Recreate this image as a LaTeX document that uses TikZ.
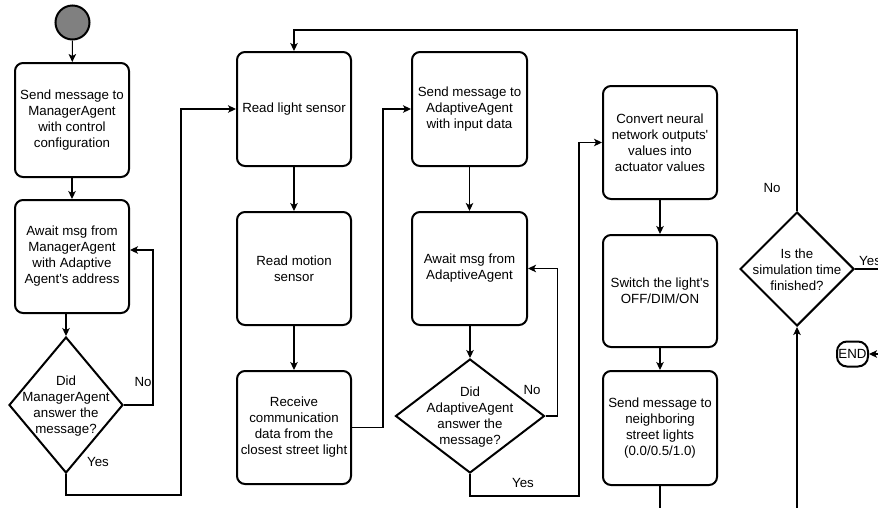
\documentclass[tikz,border=0pt]{standalone}
\usepackage{fontspec}
\setmainfont{Liberation Sans}
\usetikzlibrary{arrows.meta,shapes.geometric,calc}

\tikzset{
  txt/.style={font=\fontsize{13.3}{16}\selectfont, align=center, inner sep=0pt},
  stepbox/.style={draw, line width=2pt, rounded corners=8pt, minimum width=114pt,
                  minimum height=113pt, inner sep=0pt, txt},
  decision/.style={draw, line width=2pt, diamond, inner sep=0pt},
  conn/.style={line width=1.1pt},
  arrow/.style={conn, -{Stealth[length=8pt,width=7.5pt,inset=2pt]}},
  lbl/.style={txt},
}
\newcommand{\apos}{\textquotesingle}

\begin{document}
\begin{tikzpicture}[x=1pt,y=-1pt]
  % canvas
  \fill[white] (0,0) rectangle (878,507);
  \useasboundingbox (0,0) rectangle (878,507);

  % start
  \node[circle, draw, line width=2pt, fill=black!50, minimum size=34pt, inner sep=0pt] (start) at (72.5,22.5) {};

  % first column
  \node[stepbox, minimum height=114pt] (b1) at (72,120) {Send message to\\ManagerAgent\\with control\\configuration};
  \node[stepbox] (b2) at (72,256.5) {Await msg from\\ManagerAgent\\with Adaptive\\Agent\apos{}s address};
  \node[decision, minimum width=114pt, minimum height=136pt] (d1) at (66,405) {};
  \node[txt] (d1t) at (66,406) {Did\\ManagerAgent\\answer the\\message?};

  % second column
  \node[stepbox, minimum height=114pt] (b3) at (294,109) {Read light sensor};
  \node[stepbox] (b4) at (294,268.5) {Read motion\\sensor};
  \node[stepbox] (b5) at (294,427.5) {Receive\\communication\\data from the\\closest street light};

  % third column
  \node[stepbox, minimum width=115pt, minimum height=114pt] (b6) at (469.5,109) {Send message to\\AdaptiveAgent\\with input data};
  \node[stepbox, minimum width=115pt] (b7) at (469.5,268.5) {Await msg from\\AdaptiveAgent};
  \node[decision, minimum width=149pt, minimum height=114pt] (d2) at (470,416) {};
  \node[txt] (d2t) at (470,417) {Did\\AdaptiveAgent\\answer the\\message?};

  % fourth column
  \node[stepbox] (b8) at (660,142.5) {Convert neural\\network outputs\apos\\values into\\actuator values};
  \node[stepbox, minimum height=112pt] (b9) at (660,291) {Switch the light\apos{}s\\OFF/DIM/ON};
  \node[stepbox, minimum height=114pt] (b10) at (660,428) {Send message to\\neighboring\\street lights\\(0.0/0.5/1.0)};

  % loop decision and end
  \node[decision, minimum width=114pt, minimum height=114pt] (d3) at (797,269) {};
  \node[txt] (d3t) at (797,270) {Is the\\simulation time\\finished?};
  \node[draw, line width=2pt, rounded corners=10pt, minimum width=31pt, minimum height=25pt,
        inner sep=0pt, txt] (endn) at (852.5,354) {END};

  % bend points
  \coordinate (r1) at (181,495);
  \coordinate (r2) at (579,496);
  \coordinate (top) at (797,30);
  \coordinate (bot3) at (797,510);
  \coordinate (bot10) at (660,510);
  \coordinate (yesend) at (880,269);
  \coordinate (endin) at (882,354);

  % connectors
  \draw[arrow] (start) -- (b1);
  \draw[arrow] (b1) -- (b2);
  \draw[arrow] (b2.south -| d1.north) -- (d1.north);
  \draw[arrow] (d1.east) -- ++(29,0) |- ([yshift=6.5pt]b2.east);
  \draw[arrow] (d1.south) |- (r1) |- (b3.west);

  \draw[arrow] (b3) -- (b4);
  \draw[arrow] (b4) -- (b5);
  \draw[arrow] (b5.east) -- ++(31,0) |- (b6.west);

  \draw[arrow] (b6) -- (b7);
  \draw[arrow] (b7.south -| d2.north) -- (d2.north);
  \draw[arrow] (d2.east) -- ++(12,0) |- (b7.east);
  \draw[arrow] (d2.south) |- (r2) |- (b8.west);

  \draw[arrow] (b8) -- (b9);
  \draw[arrow] (b9) -- (b10);
  \draw[conn] (b10.south) -- (bot10);

  \draw[arrow] (bot3) -- (d3.south);
  \draw[arrow] (d3.north) -- (top) -| (b3.north);
  \draw[conn] (d3.east) -- (yesend);
  \draw[arrow] (endin) -- (endn.east);

  % branch labels
  \node[lbl] (no1) at (143,382) {No};
  \node[lbl] (yes1) at (98,462) {Yes};
  \node[lbl] (no2) at (532,390) {No};
  \node[lbl] (yes2) at (523,483) {Yes};
  \node[lbl] (no3) at (772,188) {No};
  \node[lbl, anchor=west] (yes3) at (859,261) {Yes};
\end{tikzpicture}
\end{document}
